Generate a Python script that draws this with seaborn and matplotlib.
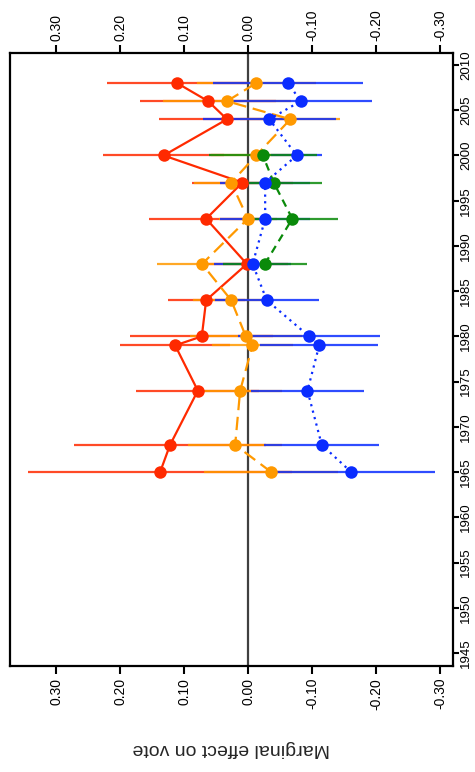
import matplotlib
matplotlib.use("Agg")
import matplotlib.pyplot as plt
import seaborn as sns
import numpy as np
import pandas as pd

# ---------------- data ----------------
years = [1965, 1968, 1974, 1979, 1980, 1984, 1988, 1993, 1997, 2000, 2004, 2006, 2008]

red_eff = [0.1375, 0.122, 0.0786, 0.114, 0.0724, 0.0656, 0.002, 0.0656, 0.009, 0.132, 0.033, 0.0625, 0.111]
red_hw = [0.206, 0.150, 0.096, 0.086, 0.112, 0.060, 0.065, 0.089, 0.079, 0.095, 0.106, 0.106, 0.110]

orange_eff = [-0.036, 0.0203, 0.0125, -0.0068, 0.0036, 0.0265, 0.072, 0.0005, 0.0265, -0.0125, -0.066, 0.033, -0.0125]
orange_hw = [0.105, 0.073, 0.065, 0.064, 0.088, 0.059, 0.070, 0.045, 0.058, 0.070, 0.078, 0.100, 0.093]

blue_eff = [-0.161, -0.115, -0.0927, -0.111, -0.0953, -0.029, -0.007, -0.0266, -0.0265, -0.076, -0.033, -0.082, -0.0625]
blue_hw = [0.131, 0.090, 0.088, 0.092, 0.111, 0.081, 0.060, 0.070, 0.070, 0.040, 0.104, 0.111, 0.117]

green_years = [1988, 1993, 1997, 2000]
green_eff = [-0.026, -0.069, -0.040, -0.023]
green_hw = [0.066, 0.071, 0.075, 0.084]

effect_ticks = [0.30, 0.20, 0.10, 0.00, -0.10, -0.20, -0.30]
effect_labels = ["0.30", "0.20", "0.10", "0.00", "-0.10", "-0.20", "-0.30"]
year_ticks = list(range(1945, 2011, 5))

# ---------------- style ----------------
sns.set_theme(style="ticks")
plt.rcParams["font.family"] = ["Liberation Sans", "DejaVu Sans"]

RED = "#FF2A00"
ORANGE = "#FF9900"
BLUE = "#0A2CFF"
GREEN = "#0A8A0A"

fig = plt.figure(figsize=(4.75, 7.72), dpi=100)
ax = fig.add_axes([10 / 475, (772 - 666) / 772, 443 / 475, (666 - 52.7) / 772])
ax.set_xlim(0.372, -0.320)
ax.set_ylim(1943.56, 2011.36)

# zero line
ax.axvline(0, color="#404040", lw=1.6, zorder=1)

series = [
    ("red", years, red_eff, red_hw, RED, "-"),
    ("orange", years, orange_eff, orange_hw, ORANGE, (0, (6, 3))),
    ("blue", years, blue_eff, blue_hw, BLUE, (0, (1, 2))),
    ("green", green_years, green_eff, green_hw, GREEN, (0, (3.5, 2.5))),
]

# confidence intervals
for name, yrs, eff, hw, col, ls in series:
    e = np.array(eff)
    h = np.array(hw)
    ax.hlines(yrs, e - h, e + h, colors=col, lw=1.6, alpha=0.85, zorder=2)

# lines + points
for name, yrs, eff, hw, col, ls in [series[0], series[1], series[3], series[2]]:
    df = pd.DataFrame({"year": yrs, "effect": eff})
    sns.lineplot(data=df, x="effect", y="year", orient="y", sort=True,
                 color=col, linestyle=ls, lw=1.6, marker="o", markersize=9,
                 markeredgewidth=0, ax=ax, zorder=3, estimator=None)

# ticks
ax.set_xticks(effect_ticks)
ax.set_xticklabels(effect_labels, rotation=90)
ax.tick_params(axis="x", top=True, labeltop=True, bottom=True, labelbottom=True,
               direction="out", length=5.5, width=1.5, labelsize=10, pad=3, colors="black")
ax.set_yticks(year_ticks)
ax.set_yticklabels([str(y) for y in year_ticks], rotation=90, va="center")
ax.tick_params(axis="y", left=False, labelleft=False, right=True, labelright=True,
               direction="out", length=4, width=1.5, labelsize=9.5, pad=1.2, colors="black")

for s in ax.spines.values():
    s.set_visible(True)
    s.set_linewidth(1.6)
    s.set_color("black")

ax.set_ylabel("")
ax.set_xlabel("Marginal effect on vote", rotation=180, fontsize=14, labelpad=22)
ax.grid(False)

fig.savefig("out.png", dpi=100)
